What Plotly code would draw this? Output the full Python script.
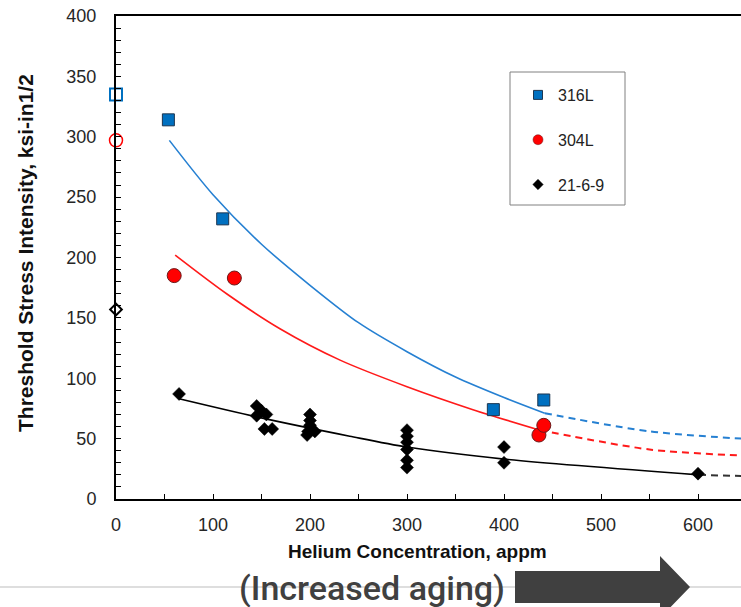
import plotly.graph_objects as go

# ---------------- data ----------------
he_316 = [54, 110, 389, 441]
k_316 = [314, 232, 74, 82]
he_316_unaged = [0]
k_316_unaged = [335]

he_304 = [60, 122, 436, 441]
k_304 = [185, 183, 53, 61]
he_304_unaged = [0]
k_304_unaged = [297]

he_2169 = [65, 145, 145, 150, 155, 153, 161,
           200, 200, 200, 198, 197, 205,
           300, 300, 300, 300, 300, 300,
           400, 400, 600]
k_2169 = [87, 77, 69, 73, 70, 58, 58,
          70, 65, 61, 56, 53, 56,
          57, 52, 47, 41, 32, 26,
          43, 30, 21]
he_2169_unaged = [0]
k_2169_unaged = [157]

# trend curves
fit316_x = [55, 100, 150, 200, 250, 300, 350, 400, 442]
fit316_y = [297, 252, 211, 177, 146, 122, 101, 84, 71]
ext316_x = [442, 550, 645]
ext316_y = [71, 56, 50]

fit304_x = [61, 114, 169, 231, 300, 368, 437]
fit304_y = [202, 170, 141, 115, 93, 74, 57]
ext304_x = [437, 550, 645]
ext304_y = [57, 41, 36]

fit2169_x = [65, 145, 241, 300, 400, 601]
fit2169_y = [83, 68, 52, 43, 33, 20]
ext2169_x = [601, 645]
ext2169_y = [20, 19]

series_names = ["316L", "304L", "21-6-9"]
x_tick_vals = [0, 100, 200, 300, 400, 500, 600]
y_tick_vals = [0, 50, 100, 150, 200, 250, 300, 350, 400]

BLUE = "#0070C0"
BLUE_LINE = "#2680D2"
RED = "#FF0000"
RED_LINE = "#FF1A1A"
BLACK = "#000000"
FONT = "Arial, Liberation Sans, sans-serif"

# pixel geometry helpers for layout decorations
W, H = 741, 607
L, T, B = 116, 16, 108
PW, PH = W - L, H - T - B


def px(xp):
    return (xp - L) / PW


def py(yp):
    return (H - B - yp) / PH


fig = go.Figure()

# trend lines
for xs, ys, col in [(fit316_x, fit316_y, BLUE_LINE), (fit304_x, fit304_y, RED_LINE),
                    (fit2169_x, fit2169_y, BLACK)]:
    fig.add_trace(go.Scatter(x=xs, y=ys, mode="lines", showlegend=False, hoverinfo="skip",
                             line=dict(color=col, width=1.6, shape="spline", smoothing=0.8)))
for xs, ys, col in [(ext316_x, ext316_y, BLUE_LINE), (ext304_x, ext304_y, RED_LINE),
                    (ext2169_x, ext2169_y, "#333333")]:
    fig.add_trace(go.Scatter(x=xs, y=ys, mode="lines", showlegend=False, hoverinfo="skip",
                             line=dict(color=col, width=2, dash="7px,5px", shape="spline",
                                       smoothing=0.8)))

# data markers
fig.add_trace(go.Scatter(x=he_2169, y=k_2169, mode="markers", showlegend=False,
                         marker=dict(symbol="diamond", size=10, color=BLACK,
                                     line=dict(color=BLACK, width=0.5))))
fig.add_trace(go.Scatter(x=he_316, y=k_316, mode="markers", showlegend=False,
                         marker=dict(symbol="square", size=12, color=BLUE,
                                     line=dict(color="#1d3650", width=1))))
fig.add_trace(go.Scatter(x=he_304, y=k_304, mode="markers", showlegend=False,
                         marker=dict(symbol="circle", size=14, color=RED,
                                     line=dict(color="#6b1a1a", width=1))))

# unaged (open) markers on the axis
fig.add_trace(go.Scatter(x=he_316_unaged, y=k_316_unaged, mode="markers", showlegend=False,
                         cliponaxis=False,
                         marker=dict(symbol="square", size=12, color="white",
                                     line=dict(color=BLUE, width=2))))
fig.add_trace(go.Scatter(x=he_304_unaged, y=k_304_unaged, mode="markers", showlegend=False,
                         cliponaxis=False,
                         marker=dict(symbol="circle", size=13, color="white",
                                     line=dict(color=RED, width=1.5))))
fig.add_trace(go.Scatter(x=he_2169_unaged, y=k_2169_unaged, mode="markers", showlegend=False,
                         cliponaxis=False,
                         marker=dict(symbol="diamond", size=9, color="white",
                                     line=dict(color=BLACK, width=2))))

# legend keys
legend_markers = [
    dict(symbol="square", size=9, color=BLUE, line=dict(color="#1d3650", width=1)),
    dict(symbol="circle", size=10, color=RED, line=dict(color="#6b1a1a", width=0.5)),
    dict(symbol="diamond", size=8, color=BLACK, line=dict(color=BLACK, width=0.5)),
]
for i, (name, mk) in enumerate(zip(series_names, legend_markers)):
    fig.add_trace(go.Scatter(x=[None], y=[None], mode="markers", name=name,
                             legendgroup=f"g{i}", marker=mk))

fig.update_layout(
    width=W, height=H,
    margin=dict(l=L, r=0, t=T, b=B, pad=0),
    paper_bgcolor="white", plot_bgcolor="white",
    font=dict(family=FONT, color="#222222"),
    showlegend=True,
    legend=dict(x=px(518), y=py(78), xanchor="left", yanchor="top",
                bgcolor="rgba(0,0,0,0)", borderwidth=0,
                font=dict(family=FONT, size=16, color="#222222"),
                traceorder="grouped", tracegroupgap=21, itemwidth=30),
    xaxis=dict(range=[0, 644.3], showgrid=False, zeroline=False,
               showline=True, linecolor=BLACK, linewidth=1.5, mirror=True,
               tickmode="array", tickvals=x_tick_vals,
               ticks="inside", ticklen=5, tickcolor=BLACK, tickwidth=1,
               minor=dict(dtick=50, ticks="inside", ticklen=5, tickcolor=BLACK),
               ticklabelstandoff=9,
               tickfont=dict(family=FONT, size=18, color="#262626")),
    yaxis=dict(range=[0, 400], showgrid=False, zeroline=False,
               showline=True, linecolor=BLACK, linewidth=2, mirror=False,
               tickmode="array", tickvals=y_tick_vals,
               ticks="inside", ticklen=5, tickcolor=BLACK, tickwidth=1,
               minor=dict(dtick=10, ticks="inside", ticklen=5, tickcolor=BLACK),
               ticklabelstandoff=14,
               tickfont=dict(family=FONT, size=18, color="#262626")),
)

# legend frame
fig.add_shape(type="rect", xref="paper", yref="paper",
              x0=px(510), x1=px(625), y0=py(205), y1=py(72),
              line=dict(color="#808080", width=1), fillcolor="rgba(0,0,0,0)", layer="above")

# axis titles
fig.add_annotation(text="<b>Helium Concentration, appm</b>", xref="paper", yref="paper",
                   x=px(417), y=py(551), xanchor="center", yanchor="middle", showarrow=False,
                   font=dict(family=FONT, size=19, color="#111111"))
fig.add_annotation(text="<b>Threshold Stress Intensity, ksi-in1/2</b>", xref="paper", yref="paper",
                   x=px(25), y=py(253), xanchor="center", yanchor="middle", showarrow=False,
                   textangle=-90, font=dict(family=FONT, size=21, color="#111111"))

# bottom banner: rule, caption, arrow
fig.add_shape(type="line", xref="paper", yref="paper", x0=px(0), x1=px(W), y0=py(587), y1=py(587),
              line=dict(color="#bdbdbd", width=1), layer="below")
fig.add_annotation(text="(Increased aging)", xref="paper", yref="paper",
                   x=px(372), y=py(588), xanchor="center", yanchor="middle", showarrow=False,
                   font=dict(family="Roboto, sans-serif", size=34, color="#404040", weight=500))
arrow_pts = [(515, 571), (660, 571), (660, 556), (690, 587), (660, 618), (660, 603), (515, 603)]
path = "M " + " L ".join(f"{px(a):.5f},{py(b):.5f}" for a, b in arrow_pts) + " Z"
fig.add_shape(type="path", xref="paper", yref="paper", path=path,
              fillcolor="#404040", line=dict(color="#404040", width=0))

fig.write_html("out.html", config={"displayModeBar": False},
               post_script="document.body.style.margin='0';document.body.style.overflow='hidden';")
